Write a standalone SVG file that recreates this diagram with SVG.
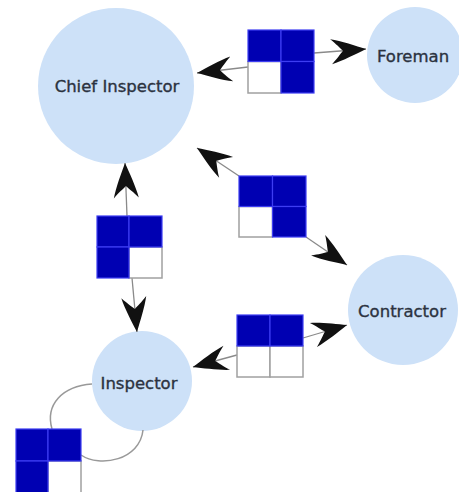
<svg xmlns="http://www.w3.org/2000/svg" width="459" height="492" viewBox="0 0 459 492">
<style>
.node{fill:#cde1f8}
.lbl{font-family:"DejaVu Sans",sans-serif;font-size:16.5px;fill:#2b3240;stroke:#2b3240;stroke-width:0.35;text-anchor:middle}
.b{fill:#0000b2;stroke:#3d3df2;stroke-width:1.2}
.w{fill:#ffffff;stroke:#a0a0a0;stroke-width:1.5}
.c{fill:none;stroke:#8a8a8a;stroke-width:1.3}
.loop{fill:none;stroke:#999;stroke-width:1.5}
</style>
<defs>
<marker id="ah" markerUnits="userSpaceOnUse" viewBox="-36 -13 37 26" refX="0" refY="0" markerWidth="37" markerHeight="26" orient="auto" overflow="visible">
<path d="M0,0 C-10,-4 -24,-10 -35,-12.5 C-29,-7 -26,-3 -23,0 C-26,3 -29,7 -35,12.5 C-24,10 -10,4 0,0 Z" fill="#111"/>
</marker>
</defs>
<rect width="459" height="492" fill="#fff"/>
<g id="chief-inspector">
<circle class="node" cx="116" cy="86" r="78"/>
<text class="lbl" x="117" y="92">Chief Inspector</text>
</g>
<g id="foreman">
<circle class="node" cx="415" cy="55" r="48"/>
<text class="lbl" x="413" y="62">Foreman</text>
</g>
<g id="contractor">
<circle class="node" cx="403" cy="310" r="55"/>
<text class="lbl" x="402" y="317">Contractor</text>
</g>
<g id="inspector">
<circle class="node" cx="142" cy="381" r="50"/>
<text class="lbl" x="139" y="389">Inspector</text>
</g>
<g id="connectors">
<line class="c" x1="248" y1="67" x2="197" y2="73" marker-end="url(#ah)"/>
<line class="c" x1="314" y1="53" x2="366" y2="49" marker-end="url(#ah)"/>
<line class="c" x1="239" y1="176" x2="197" y2="148" marker-end="url(#ah)"/>
<line class="c" x1="306" y1="237" x2="347" y2="265" marker-end="url(#ah)"/>
<line class="c" x1="303" y1="338" x2="347" y2="325" marker-end="url(#ah)"/>
<line class="c" x1="237" y1="355" x2="193" y2="367" marker-end="url(#ah)"/>
<line class="c" x1="127" y1="216" x2="125" y2="163" marker-end="url(#ah)"/>
<line class="c" x1="132" y1="278" x2="137" y2="332" marker-end="url(#ah)"/>
<path class="loop" d="M92,384 C62,386 45,405 52,429"/>
<path class="loop" d="M81,455 C100,468 140,460 143,430"/>
</g>
<g id="link-foreman">
<rect class="w" x="248" y="61.5" width="33" height="31.5"/>
<rect class="b" x="248" y="30" width="33" height="31.5"/>
<rect class="b" x="281" y="30" width="33" height="31.5"/>
<rect class="b" x="281" y="61.5" width="33" height="31.5"/>
</g>
<g id="link-contractor">
<rect class="w" x="239" y="206.5" width="33.5" height="30.5"/>
<rect class="b" x="239" y="176" width="33.5" height="30.5"/>
<rect class="b" x="272.5" y="176" width="33.5" height="30.5"/>
<rect class="b" x="272.5" y="206.5" width="33.5" height="30.5"/>
</g>
<g id="link-inspector-contractor">
<rect class="w" x="237" y="346" width="33" height="31"/>
<rect class="w" x="270" y="346" width="33" height="31"/>
<rect class="b" x="237" y="315" width="33" height="31"/>
<rect class="b" x="270" y="315" width="33" height="31"/>
</g>
<g id="link-chief-inspector">
<rect class="w" x="129" y="247" width="33" height="31"/>
<rect class="b" x="97" y="216" width="32" height="31"/>
<rect class="b" x="129" y="216" width="33" height="31"/>
<rect class="b" x="97" y="247" width="32" height="31"/>
</g>
<g id="link-self">
<rect class="w" x="48" y="461" width="33" height="32"/>
<rect class="b" x="16" y="429" width="32" height="32"/>
<rect class="b" x="48" y="429" width="33" height="32"/>
<rect class="b" x="16" y="461" width="32" height="32"/>
</g>
</svg>
